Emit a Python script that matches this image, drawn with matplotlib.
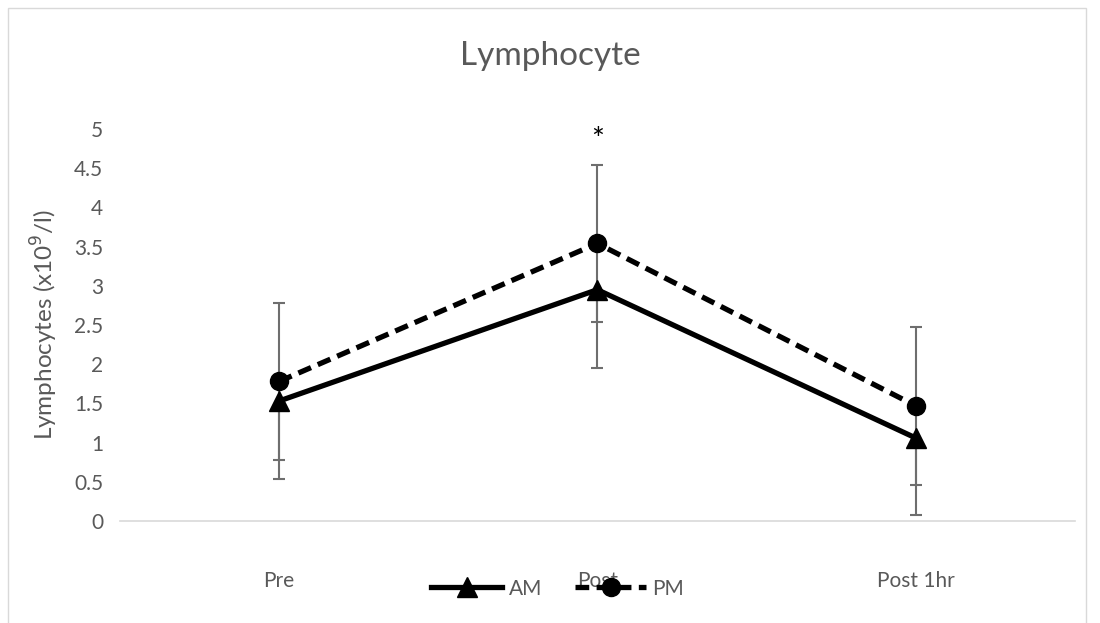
import matplotlib.pyplot as plt
from matplotlib.patches import Rectangle

# данные
categories = ['Pre', 'Post', 'Post 1hr']
am_values = [1.53, 2.95, 1.06]
pm_values = [1.78, 3.54, 1.47]
am_err_low = [0.99, 1.00, 0.98]
pm_err = [1.00, 1.00, 1.01]
y_ticks = [0, 0.5, 1, 1.5, 2, 2.5, 3, 3.5, 4, 4.5, 5]

plt.rcParams['font.family'] = ['Lato', 'DejaVu Sans']
grey = '#595959'
err_col = '#6e6e6e'

fig = plt.figure(figsize=(11, 6.23), dpi=100)
ax = fig.add_axes([0.109, 0.1637, 0.868, 0.6293])

x = list(range(len(categories)))

# рамка вокруг области диаграммы
fig.patches.append(Rectangle((8 / 1100, -0.05), 1078 / 1100, 1.037,
                             transform=fig.transFigure, fill=False,
                             edgecolor='#d9d9d9', lw=1))

# AM - только нижние усы
am_low = [v - e for v, e in zip(am_values, am_err_low)]
ax.vlines(x, am_low, am_values, color=err_col, lw=1.5, zorder=1)
ax.plot(x, am_low, linestyle='none', marker='_', markersize=9,
        markeredgewidth=1.5, color=err_col, zorder=1)

# PM - усы в обе стороны
ax.errorbar(x, pm_values, yerr=pm_err, fmt='none',
            ecolor=err_col, elinewidth=1.5, capsize=4.5, capthick=1.5, zorder=1)

ax.plot(x, am_values, color='black', lw=3.8, marker='^', markersize=15,
        label='AM', zorder=3)
ax.plot(x, pm_values, color='black', lw=3.8, marker='o', markersize=13,
        dashes=(2.6, 1.4), label='PM', zorder=3)

ax.text(1, 4.86, '*', ha='center', va='center', fontsize=22, color='black')

ax.set_xlim(-0.5, 2.5)
ax.set_ylim(0, 5)
ax.set_xticks(x)
ax.set_xticklabels(categories)
ax.set_yticks(y_ticks)
ax.set_yticklabels([f'{t:g}' for t in y_ticks])
ax.tick_params(axis='both', length=0, labelsize=15, colors=grey)
ax.tick_params(axis='x', pad=36)
ax.tick_params(axis='y', pad=12)

for side in ['top', 'right', 'left']:
    ax.spines[side].set_visible(False)
ax.spines['bottom'].set_color('#d9d9d9')
ax.spines['bottom'].set_linewidth(1.2)

ax.set_ylabel('Lymphocytes (x10$^{9}$/l)', fontsize=17.5, color=grey)
ax.yaxis.set_label_coords(-0.063, 0.5)
fig.text(0.5, 0.91, 'Lymphocyte', ha='center', va='center', fontsize=24, color=grey)

fig.legend(loc='center', bbox_to_anchor=(0.507, 0.055), ncol=2, frameon=False,
           fontsize=15, handlelength=3.4, columnspacing=1.6, handletextpad=0.3,
           labelcolor=grey)

plt.savefig('out.png')
